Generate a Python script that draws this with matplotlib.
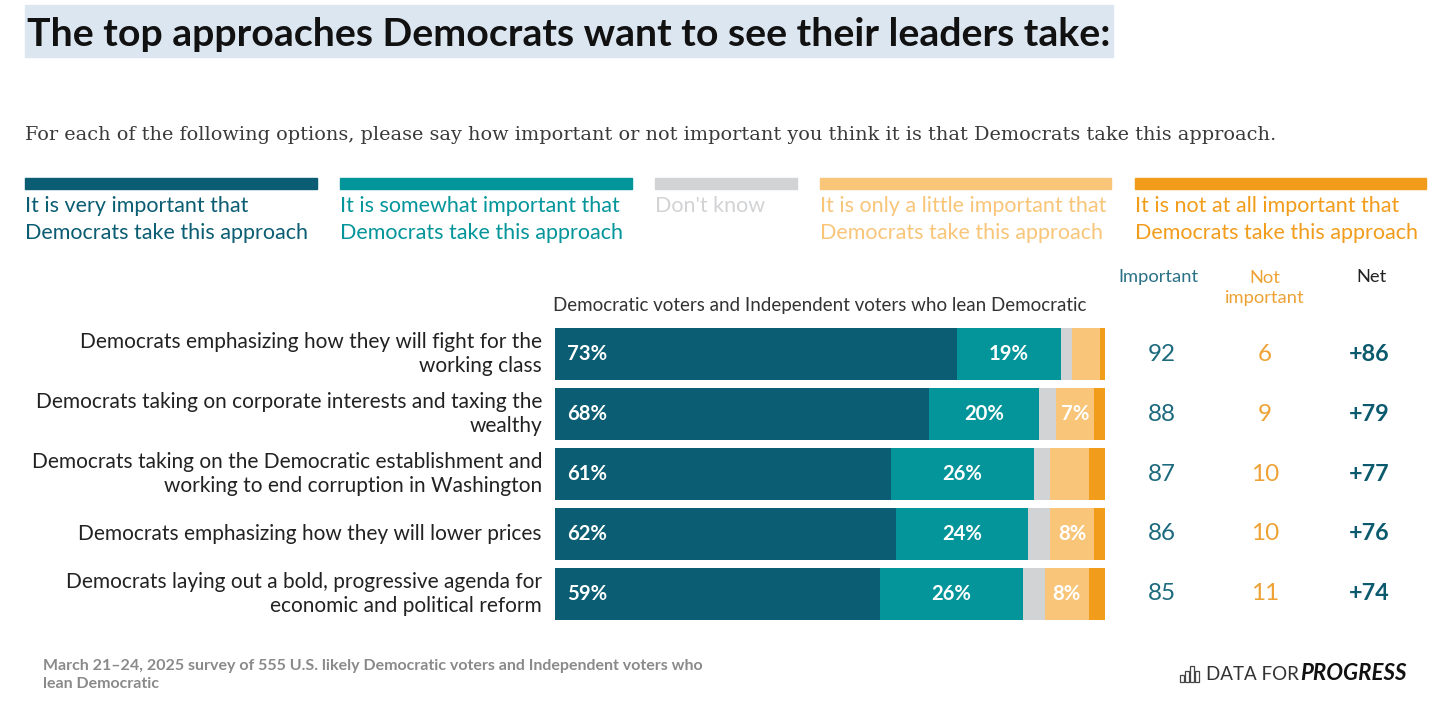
import matplotlib
matplotlib.use("Agg")
import matplotlib.pyplot as plt
import matplotlib.transforms as mtransforms
from matplotlib.patches import Rectangle

plt.rcParams['font.family'] = ['Lato', 'DejaVu Sans']

# data
approaches = [
    "Democrats emphasizing how they will fight for the\nworking class",
    "Democrats taking on corporate interests and taxing the\nwealthy",
    "Democrats taking on the Democratic establishment and\nworking to end corruption in Washington",
    "Democrats emphasizing how they will lower prices",
    "Democrats laying out a bold, progressive agenda for\neconomic and political reform",
]
very_important = [73, 68, 61, 62, 59]
somewhat_important = [19, 20, 26, 24, 26]
dont_know = [2, 3, 3, 4, 4]
little_important = [5, 7, 7, 8, 8]
not_at_all = [1, 2, 3, 2, 3]
important_total = [92, 88, 87, 86, 85]
not_important_total = [6, 9, 10, 10, 11]
net = ["+86", "+79", "+77", "+76", "+74"]
# only some segments carry a printed label
very_labels = ["73%", "68%", "61%", "62%", "59%"]
somewhat_labels = ["19%", "20%", "26%", "24%", "26%"]
little_labels = ["", "7%", "", "8%", "8%"]

legend_labels = [
    "It is very important that\nDemocrats take this approach",
    "It is somewhat important that\nDemocrats take this approach",
    "Don't know",
    "It is only a little important that\nDemocrats take this approach",
    "It is not at all important that\nDemocrats take this approach",
]

DARK = "#0a5d72"
TEAL = "#03959a"
GRAY = "#d2d3d5"
LIGHT = "#f8c579"
ORANGE = "#f29c1c"
colors = [DARK, TEAL, GRAY, LIGHT, ORANGE]

W, H = 1456, 710
fig = plt.figure(figsize=(W / 100, H / 100), dpi=100)


def fx(px):
    return px / W


def fy(py):
    return 1 - py / H


# title with highlight
fig.patches.append(Rectangle((fx(25), fy(57)), fx(1113) - fx(25), fy(5) - fy(57),
                             transform=fig.transFigure, color="#dce6f1", zorder=0))
fig.text(fx(27), fy(34), "The top approaches Democrats want to see their leaders take:",
         fontsize=28.3, fontweight="bold", color="#111111", va="center", ha="left")

fig.text(fx(25), fy(135), "For each of the following options, please say how important or not "
         "important you think it is that Democrats take this approach.",
         fontsize=13.9, family="DejaVu Serif", color="#3a3a3a", va="center", ha="left")

# legend
leg_x = [(25, 317), (340, 632), (655, 797), (820, 1111), (1135, 1426)]
for (x0, x1), lab, c in zip(leg_x, legend_labels, colors):
    fig.patches.append(Rectangle((fx(x0), fy(189)), fx(x1) - fx(x0), fy(178) - fy(189),
                                 transform=fig.transFigure, color=c))
    fig.text(fx(x0), fy(196), lab, fontsize=15.5, color=c, va="top", ha="left",
             linespacing=1.44)

# bars
ax = fig.add_axes([fx(555), fy(624), fx(1105) - fx(555), fy(324) - fy(624)])
ypos = list(range(len(approaches)))
segments = [very_important, somewhat_important, dont_know, little_important, not_at_all]
left = [0] * len(approaches)
for seg, c in zip(segments, colors):
    ax.barh(ypos, seg, left=left, height=0.87, color=c, edgecolor="none")
    left = [l + s for l, s in zip(left, seg)]

for i in ypos:
    ax.text(2.2, i, very_labels[i], color="white", fontsize=14.6, fontweight="bold",
            va="center", ha="left")
    mid = very_important[i] + somewhat_important[i] / 2
    ax.text(mid, i, somewhat_labels[i], color="white", fontsize=14.6, fontweight="bold",
            va="center", ha="center")
    if little_labels[i]:
        start = very_important[i] + somewhat_important[i] + dont_know[i]
        ax.text(start + little_important[i] / 2, i, little_labels[i], color="white",
                fontsize=14.6, fontweight="bold", va="center", ha="center")

ax.set_xlim(0, 100)
ax.set_ylim(len(approaches) - 0.5, -0.5)
ax.axis("off")

trans = mtransforms.blended_transform_factory(fig.transFigure, ax.transData)
for i in ypos:
    ax.text(fx(542), i, approaches[i], transform=trans, ha="right", va="center",
            fontsize=15, color="#222222", linespacing=1.2)
    ax.text(fx(1162), i, str(important_total[i]), transform=trans, ha="center",
            va="center", fontsize=17.5, color="#1d6a7e")
    ax.text(fx(1265), i, str(not_important_total[i]), transform=trans, ha="center",
            va="center", fontsize=17.5, color="#eea236")
    ax.text(fx(1369), i, net[i], transform=trans, ha="center", va="center",
            fontsize=16.8, fontweight="bold", color="#0c5a6e")

fig.text(fx(820), fy(305), "Democratic voters and Independent voters who lean Democratic",
         fontsize=13.5, color="#333333", ha="center", va="center")
fig.text(fx(1158), fy(277), "Important", fontsize=13.2, color="#2a7185",
         ha="center", va="center")
fig.text(fx(1265), fy(288), "Not\nimportant", fontsize=13.2, color="#eea236",
         ha="center", va="center", linespacing=1.3)
fig.text(fx(1372), fy(277), "Net", fontsize=13.2, color="#222222",
         ha="center", va="center")

# footer
fig.text(fx(43), fy(675), "March 21\u201324, 2025 survey of 555 U.S. likely Democratic voters "
         "and Independent voters who\nlean Democratic", fontsize=11.5, fontweight="bold",
         color="#8a8a8a", ha="left", va="center", linespacing=1.4)

# logo
for k, h in enumerate([7, 11, 16, 11]):
    fig.patches.append(Rectangle((fx(1180 + k * 5), fy(682)), fx(4) - fx(0), h / H,
                                 transform=fig.transFigure, fill=False,
                                 edgecolor="#444444", linewidth=0.9))
fig.text(fx(1206), fy(674), "DATA FOR", fontsize=13.5, color="#333333",
         ha="left", va="center")
fig.text(fx(1300), fy(674), "PROGRESS", fontsize=16, fontweight="bold", style="italic",
         color="#111111", ha="left", va="center")

fig.savefig("out.png", dpi=100, facecolor="white")
